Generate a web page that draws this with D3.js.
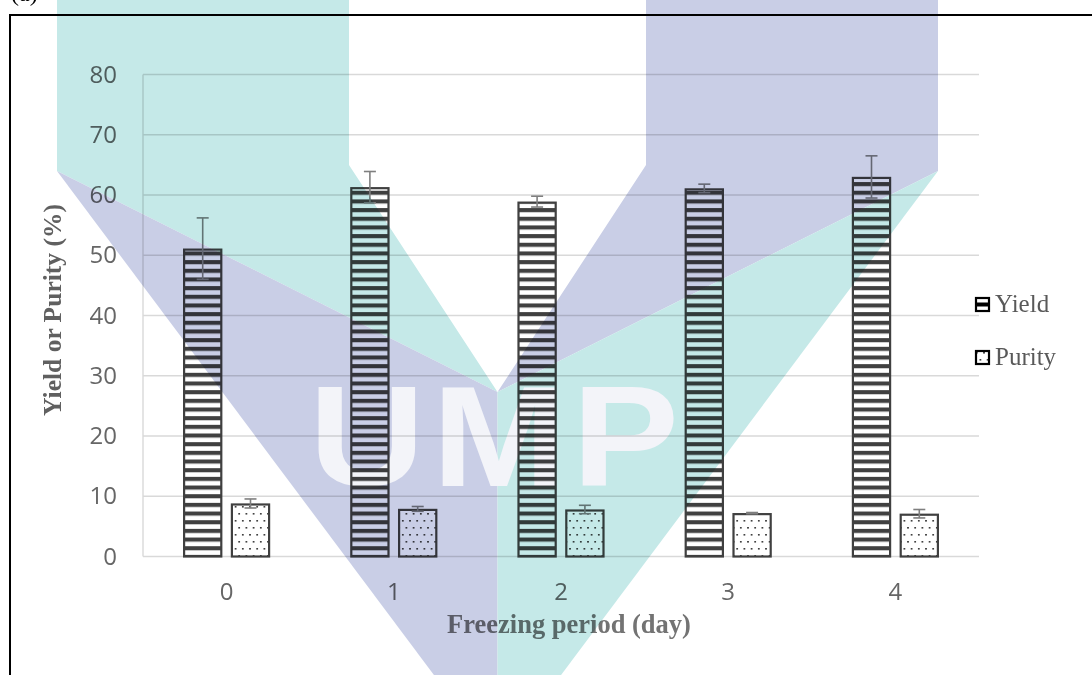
<!DOCTYPE html>
<html>
<head>
<meta charset="utf-8">
<script src="https://cdn.jsdelivr.net/npm/d3@7"></script>
<style>
  html, body { margin: 0; padding: 0; background: #fff; }
  svg { display: block; }
</style>
</head>
<body>
<svg id="chart" width="1092" height="675"></svg>
<script>
// ---- data ----
const categories = ["0", "1", "2", "3", "4"];
const seriesNames = ["Yield", "Purity"];
const yieldValues = [51.1, 61.3, 58.9, 61.1, 63.0];
const yieldErrors = [5.1, 2.6, 0.9, 0.7, 3.5];
const purityValues = [8.8, 7.9, 7.8, 7.2, 7.1];
const purityErrors = [0.75, 0.4, 0.7, 0.1, 0.7];
const yTicks = [0, 10, 20, 30, 40, 50, 60, 70, 80];
const xTitle = "Freezing period (day)";
const yTitle = "Yield or Purity (%)";
const panelLabel = "(a)";

const W = 1092, H = 675;
const plot = { left: 143, right: 979, top: 74.5, bottom: 556.5 };

const svg = d3.select("#chart");

// ---- patterns ----
const defs = svg.append("defs");
const stripe = defs.append("pattern").attr("id", "stripes")
  .attr("patternUnits", "userSpaceOnUse").attr("width", 12).attr("height", 8.67);
stripe.append("rect").attr("width", 12).attr("height", 8.67).attr("fill", "#fff");
stripe.append("rect").attr("y", 0).attr("width", 12).attr("height", 4.1).attr("fill", "#404040");

const dots = defs.append("pattern").attr("id", "dots")
  .attr("patternUnits", "userSpaceOnUse").attr("width", 7.2).attr("height", 14);
dots.append("rect").attr("width", 7.2).attr("height", 14).attr("fill", "#fff");
dots.append("rect").attr("x", 1).attr("y", 2).attr("width", 1.6).attr("height", 1.6).attr("fill", "#2a2a2a");
dots.append("rect").attr("x", 4.6).attr("y", 9).attr("width", 1.6).attr("height", 1.6).attr("fill", "#2a2a2a");

// ---- scales ----
const x = d3.scaleBand().domain(categories).range([plot.left, plot.right]).paddingInner(0).paddingOuter(0);
const xs = d3.scaleBand().domain(seriesNames).range([-43.5, 43.5]).paddingInner(0.18).paddingOuter(0);
const y = d3.scaleLinear().domain([0, 80]).range([plot.bottom, plot.top]);

// ---- gridlines ----
svg.append("g").selectAll("line").data(yTicks).join("line")
  .attr("x1", plot.left).attr("x2", plot.right)
  .attr("y1", d => y(d)).attr("y2", d => y(d))
  .attr("stroke", "#d9d9d9").attr("stroke-width", 1.4);
svg.append("line")
  .attr("x1", plot.left).attr("x2", plot.left)
  .attr("y1", y(80)).attr("y2", y(0))
  .attr("stroke", "#d9d9d9").attr("stroke-width", 1.4);

// ---- axes ----
const tickFont = "'Open Sans', 'Noto Sans', sans-serif";
const yAxis = svg.append("g").attr("transform", `translate(${plot.left},0)`)
  .call(d3.axisLeft(y).tickValues(yTicks).tickSize(0).tickPadding(26));
yAxis.select(".domain").remove();
yAxis.selectAll("text").attr("font-family", tickFont).attr("font-size", 24).attr("fill", "#666");

const xAxis = svg.append("g").attr("transform", `translate(0,${plot.bottom})`)
  .call(d3.axisBottom(x).tickSize(0).tickPadding(26.5));
xAxis.select(".domain").remove();
xAxis.selectAll("text").attr("font-family", tickFont).attr("font-size", 24).attr("fill", "#666");

// ---- bars ----
const rows = categories.map((c, i) => ({
  cat: c,
  items: [
    { s: "Yield", v: yieldValues[i], e: yieldErrors[i], fill: "url(#stripes)" },
    { s: "Purity", v: purityValues[i], e: purityErrors[i], fill: "url(#dots)" }
  ]
}));

const groups = svg.append("g").selectAll("g").data(rows).join("g")
  .attr("transform", d => `translate(${x(d.cat) + x.bandwidth() / 2},0)`);

groups.selectAll("rect").data(d => d.items).join("rect")
  .attr("x", d => xs(d.s) + 1)
  .attr("width", xs.bandwidth() - 2)
  .attr("y", d => y(d.v) + 1)
  .attr("height", d => y(0) - y(d.v) - 1)
  .attr("fill", d => d.fill)
  .attr("stroke", "#404040").attr("stroke-width", 2.2);

// error bars
const eb = groups.selectAll("g.err").data(d => d.items).join("g").attr("class", "err")
  .attr("stroke", "#7f7f7f").attr("stroke-width", 1.6);
eb.append("line")
  .attr("x1", d => xs(d.s) + xs.bandwidth() / 2).attr("x2", d => xs(d.s) + xs.bandwidth() / 2)
  .attr("y1", d => y(d.v + d.e)).attr("y2", d => y(d.v - d.e));
eb.append("line")
  .attr("x1", d => xs(d.s) + xs.bandwidth() / 2 - 6).attr("x2", d => xs(d.s) + xs.bandwidth() / 2 + 6)
  .attr("y1", d => y(d.v + d.e)).attr("y2", d => y(d.v + d.e));
eb.append("line")
  .attr("x1", d => xs(d.s) + xs.bandwidth() / 2 - 6).attr("x2", d => xs(d.s) + xs.bandwidth() / 2 + 6)
  .attr("y1", d => y(d.v - d.e)).attr("y2", d => y(d.v - d.e));

// ---- titles ----
svg.append("text")
  .attr("x", 569).attr("y", 633)
  .attr("text-anchor", "middle")
  .attr("font-family", "'Liberation Serif', 'Times New Roman', serif")
  .attr("font-weight", "bold").attr("font-size", 26.5)
  .attr("fill", "#737373").text(xTitle);

svg.append("text")
  .attr("transform", "translate(61,310) rotate(-90)")
  .attr("text-anchor", "middle")
  .attr("font-family", "'Liberation Serif', 'Times New Roman', serif")
  .attr("font-weight", "bold").attr("font-size", 25.5)
  .attr("fill", "#606060").text(yTitle);

// ---- legend ----
const legend = svg.append("g").attr("transform", "translate(975,0)");
const legendY = { Yield: 297, Purity: 350 };
seriesNames.forEach(name => {
  const g = legend.append("g").attr("transform", `translate(0,${legendY[name]})`);
  g.append("rect").attr("x", 1).attr("y", 1).attr("width", 13).attr("height", 13)
    .attr("fill", name === "Yield" ? "#fff" : "url(#dots)")
    .attr("stroke", "#000").attr("stroke-width", 2.2);
  if (name === "Yield") {
    g.append("rect").attr("x", 1).attr("y", 5.5).attr("width", 13).attr("height", 4).attr("fill", "#000");
  }
  g.append("text").attr("x", 20).attr("y", 15)
    .attr("font-family", "'Liberation Serif', 'Times New Roman', serif")
    .attr("font-size", 25).attr("fill", "#595959").text(name);
});

// ---- frame ----
svg.append("rect").attr("x", 10).attr("y", 15).attr("width", 1100).attr("height", 700)
  .attr("fill", "none").attr("stroke", "#000").attr("stroke-width", 2);
svg.append("text").attr("x", 11).attr("y", 1)
  .attr("font-family", "'Liberation Serif', 'Times New Roman', serif")
  .attr("font-size", 24).attr("fill", "#000").text(panelLabel);

// ---- watermark (multiply overlay) ----
const wm = svg.append("g").style("mix-blend-mode", "multiply").style("pointer-events", "none");
const teal = "#c5e9e8", purple = "#c9cee6";
const cx = 497.5;
const mir = pts => pts.map(([a, b]) => [2 * cx - a, b]);
const leftArm = [[57, -5], [349, -5], [349, 165], [cx, 392], [57, 171]];
const leftBand = [[57, 171], [cx, 392], [cx, 760]];
wm.append("polygon").attr("points", leftArm.join(" ")).attr("fill", teal);
wm.append("polygon").attr("points", leftBand.join(" ")).attr("fill", purple);
wm.append("polygon").attr("points", mir(leftArm).join(" ")).attr("fill", purple);
wm.append("polygon").attr("points", mir(leftBand).join(" ")).attr("fill", teal);
const letters = [["U", 309], ["M", 432], ["P", 572]];
letters.forEach(([t, lx]) => {
  wm.append("text").attr("x", lx).attr("y", 486)
    .attr("transform", `translate(${lx},0) scale(1.13,1) translate(${-lx},0)`)
    .attr("font-family", "'Liberation Sans', Arial, sans-serif")
    .attr("font-weight", "bold").attr("font-size", 142)
    .attr("fill", "#f3f4f9").text(t);
});
</script>
</body>
</html>
